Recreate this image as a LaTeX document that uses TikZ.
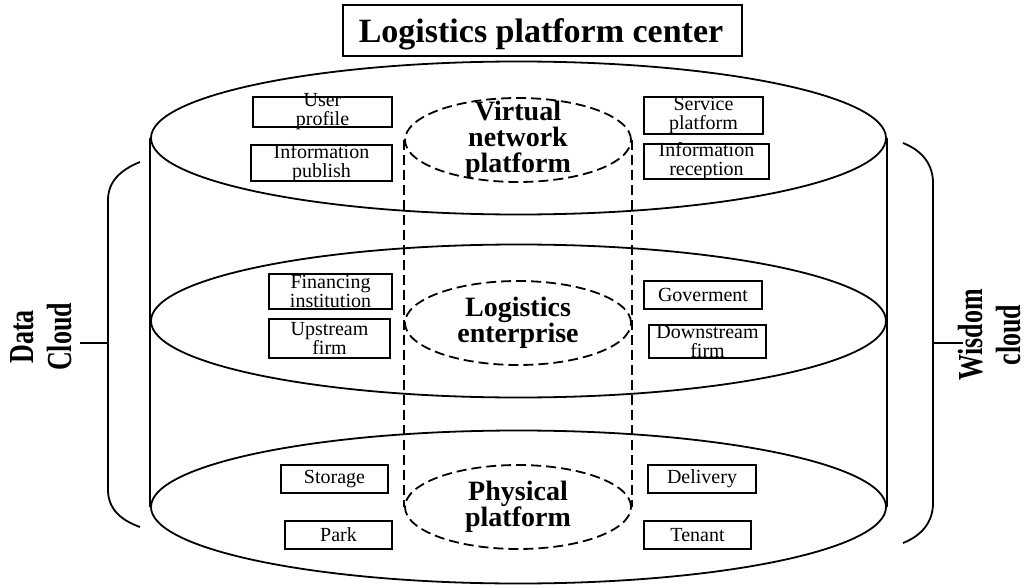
\documentclass[tikz,border=0pt]{standalone}
\usepackage{fontspec}
\setmainfont{Liberation Serif}
\usepackage{graphicx}
\usetikzlibrary{shapes.geometric}

\begin{document}
\begin{tikzpicture}[x=1pt,y=-1pt,
  line width=1.8pt,
  layer/.style={draw, ellipse, minimum width=735pt, minimum height=153pt, inner sep=0pt},
  dashline/.style={dash pattern=on 10pt off 5pt},
  core/.style={draw, ellipse, dashline, minimum width=226pt, minimum height=84pt, inner sep=0pt},
  coretext/.style={inner sep=0pt, align=center, font=\bfseries\fontsize{28}{26}\selectfont},
  itembox/.style={draw, rectangle, inner sep=0pt},
  itemtext/.style={inner sep=0pt, align=center, font=\fontsize{20}{19}\selectfont},
  sidelabel/.style={rotate=90, inner sep=0pt, font=\bfseries\fontsize{26}{28}\selectfont},
]
\useasboundingbox (0,0) rectangle (1032,585);

% title
\node[draw, minimum width=399pt, minimum height=51pt, inner sep=0pt] (titlebox) at (542.5,30.5) {};
\node[inner sep=0pt, font=\bfseries\fontsize{34}{40}\selectfont] (title) at (541,34) {Logistics platform center};

% three layers of the platform cylinder
\node[layer] (top) at (518.5,138) {};
\node[layer] (mid) at (518.5,321) {};
\node[layer] (bot) at (518.5,507) {};
\draw (top.west) -- (bot.west);
\draw (top.east) -- (bot.east);

% dashed inner core
\node[core] (virt) at (518,140) {};
\node[core] (logi) at (518,323) {};
\node[core] (phys) at (518,507) {};
\draw[dashline] (virt.west) -- (phys.west);
\draw[dashline] (virt.east) -- (phys.east);
\node[coretext] (virtT) at (virt) {Virtual\\network\\platform};
\node[coretext] (logiT) at (logi) {Logistics\\enterprise};
\node[coretext] (physT) at (phys) {Physical\\platform};

% top layer items
\node[itembox, minimum width=139pt, minimum height=30pt] (user) at (322.5,112) {};
\node[itemtext] (userT) at (user) {User\\profile};
\node[itembox, minimum width=141pt, minimum height=36pt] (pub) at (321.5,163) {};
\node[itemtext] (pubT) at (pub) {Information\\publish};
\node[itembox, minimum width=119pt, minimum height=37pt] (serv) at (703.5,115.5) {};
\node[itemtext] (servT) at (serv) {Service\\platform};
\node[itembox, minimum width=125pt, minimum height=35pt] (recp) at (706.5,161.5) {};
\node[itemtext] (recpT) at (recp) {Information\\reception};

% middle layer items
\node[itembox, minimum width=123pt, minimum height=35pt] (fin) at (330.5,291.5) {};
\node[itemtext] (finT) at (fin) {Financing\\institution};
\node[itembox, minimum width=121pt, minimum height=39pt] (up) at (329.5,338.5) {};
\node[itemtext] (upT) at (up) {Upstream\\firm};
\node[itembox, minimum width=118pt, minimum height=28pt] (gov) at (703,295) {};
\node[itemtext] (govT) at (gov) {Goverment};
\node[itembox, minimum width=117pt, minimum height=33pt] (down) at (707.5,341.5) {};
\node[itemtext] (downT) at (down) {Downstream\\firm};

% bottom layer items
\node[itembox, minimum width=107pt, minimum height=28pt] (stor) at (334.5,479) {};
\node[itemtext] (storT) at (stor) {Storage};
\node[itembox, minimum width=107pt, minimum height=28pt] (park) at (338.5,535) {};
\node[itemtext] (parkT) at (park) {Park};
\node[itembox, minimum width=108pt, minimum height=28pt] (deli) at (702,479) {};
\node[itemtext] (deliT) at (deli) {Delivery};
\node[itembox, minimum width=107pt, minimum height=28pt] (ten) at (697.5,535) {};
\node[itemtext] (tenT) at (ten) {Tenant};

% side brackets
\draw (140,162) .. controls (120,170) and (108,182) .. (108,200) -- (108,490)
      .. controls (108,508) and (120,520) .. (140,527);
\draw (903,143) .. controls (923,151) and (933,165) .. (933,183) -- (933,503)
      .. controls (933,521) and (923,535) .. (903,543);
\coordinate (lmid) at (108,343);
\coordinate (ltick) at (80,343);
\coordinate (rmid) at (933,343);
\coordinate (rtick) at (963,343);
\draw (lmid) -- (ltick);
\draw (rmid) -- (rtick);

\node[sidelabel] (data) at (45,337) {\scalebox{1}[1.35]{\begin{tabular}{@{}c@{}}Data\\Cloud\end{tabular}}};
\node[sidelabel] (wis) at (994,335) {\scalebox{1}[1.35]{\begin{tabular}{@{}c@{}}Wisdom\\cloud\end{tabular}}};
\end{tikzpicture}
\end{document}
